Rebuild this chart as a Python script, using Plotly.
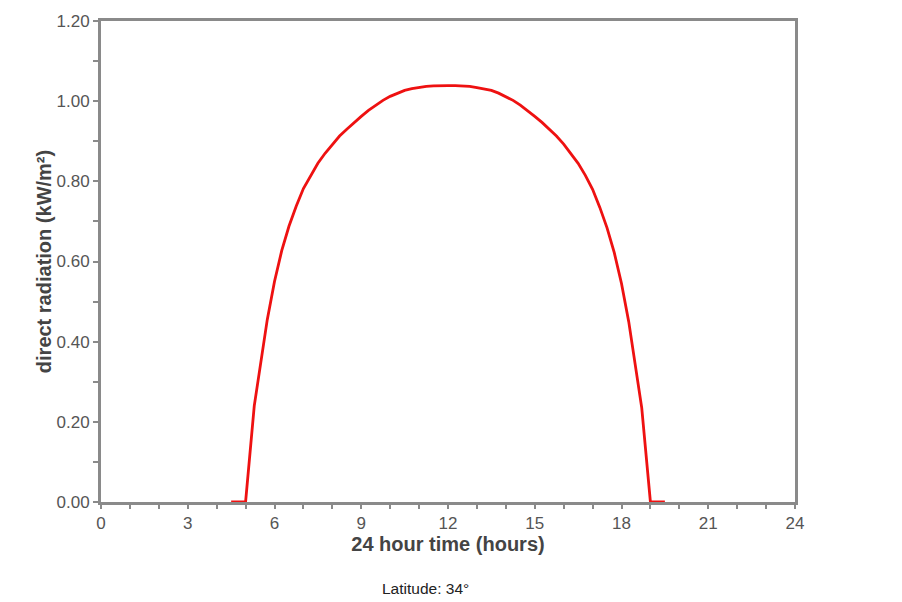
import plotly.graph_objects as go

hours = [4.5, 5.0, 5.3, 5.5, 5.75, 6.0, 6.25, 6.5, 6.75, 7.0, 7.25, 7.5, 7.75, 8.0, 8.25, 8.5, 8.75,
         9.0, 9.25, 9.5, 9.75, 10.0, 10.25, 10.5, 10.75, 11.0, 11.25, 11.5, 11.75, 12.0,
         12.25, 12.5, 12.75, 13.0, 13.25, 13.5, 13.75, 14.0, 14.25, 14.5, 14.75, 15.0, 15.25,
         15.5, 15.75, 16.0, 16.25, 16.5, 16.75, 17.0, 17.25, 17.5, 17.75, 18.0, 18.25, 18.5,
         18.7, 19.0, 19.5]
radiation = [0.0, 0.0, 0.24, 0.34, 0.455, 0.55, 0.627, 0.688, 0.738, 0.782, 0.815, 0.845, 0.87,
             0.893, 0.913, 0.93, 0.947, 0.962, 0.977, 0.99, 1.002, 1.012, 1.02, 1.027, 1.031,
             1.034, 1.037, 1.038, 1.039, 1.039,
             1.039, 1.038, 1.037, 1.034, 1.031, 1.027, 1.02, 1.012, 1.002, 0.99, 0.977, 0.962,
             0.947, 0.93, 0.913, 0.893, 0.87, 0.845, 0.815, 0.78, 0.735, 0.684, 0.622, 0.545,
             0.45, 0.335, 0.235, 0.0, 0.0]

x_ticks = [0, 3, 6, 9, 12, 15, 18, 21, 24]
y_ticks = [0.0, 0.2, 0.4, 0.6, 0.8, 1.0, 1.2]
y_labels = ["0.00", "0.20", "0.40", "0.60", "0.80", "1.00", "1.20"]

axis_color = "#8a8a8a"
font_family = "Liberation Sans, Arial, sans-serif"

fig = go.Figure()
fig.add_trace(go.Scatter(x=hours, y=radiation, mode="lines",
                         line=dict(color="#ee1111", width=2.8),
                         showlegend=False, cliponaxis=False))

fig.update_layout(
    width=902, height=602,
    margin=dict(l=101, r=107, t=21, b=100),
    paper_bgcolor="white", plot_bgcolor="white",
    font=dict(family=font_family, size=17, color="#555555"),
    annotations=[dict(text="Latitude: 34°", xref="paper", yref="paper",
                      x=(425 - 101) / 694, y=(502 - 588) / 481,
                      xanchor="center", yanchor="middle",
                      showarrow=False, font=dict(size=15.5, color="#222222"))],
)

fig.update_xaxes(
    range=[0, 24], tickvals=x_ticks, ticktext=[str(v) for v in x_ticks],
    showline=True, linecolor=axis_color, linewidth=3, mirror=True,
    ticks="outside", ticklen=4, tickwidth=2, tickcolor=axis_color,
    minor=dict(dtick=1, tick0=0, ticks="outside", ticklen=4, tickwidth=2, tickcolor=axis_color),
    showgrid=False, zeroline=False,
    tickfont=dict(size=17, color="#555555"),
    title=dict(text="<b>24 hour time (hours)</b>", font=dict(size=20, color="#444444"), standoff=1),
)
fig.update_yaxes(
    range=[0, 1.2], tickvals=y_ticks, ticktext=y_labels,
    showline=True, linecolor=axis_color, linewidth=3, mirror=True,
    ticks="outside", ticklen=5, tickwidth=2, tickcolor=axis_color,
    minor=dict(dtick=0.1, tick0=0, ticks="outside", ticklen=5, tickwidth=2, tickcolor=axis_color),
    showgrid=False, zeroline=False,
    tickfont=dict(size=17, color="#555555"),
    title=dict(text="<b>direct radiation (kW/m²)</b>", font=dict(size=20, color="#444444"), standoff=0),
)

fig.write_html("out.html")
